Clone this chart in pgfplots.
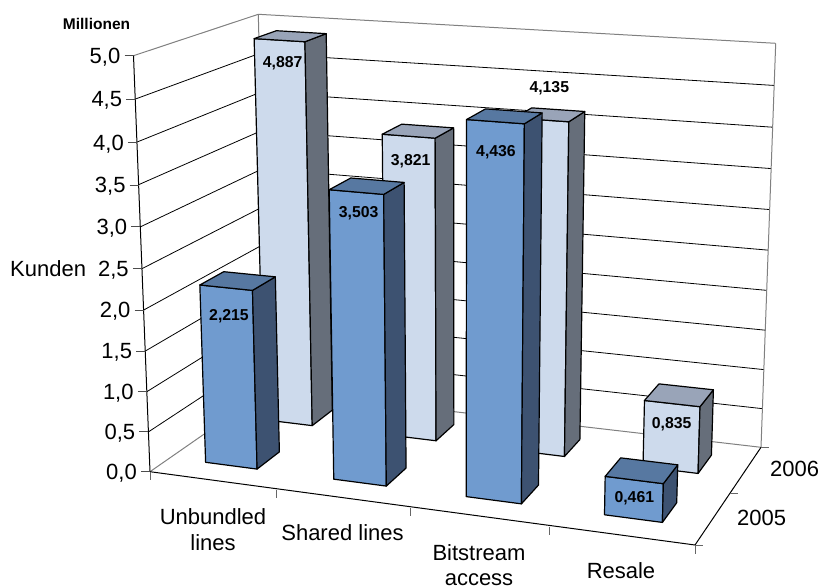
\documentclass[border=0pt]{standalone}
\usepackage{fontspec}
\setmainfont{Liberation Sans}
\usepackage{pgfplots}
\pgfplotsset{compat=1.18}

\definecolor{blueF}{RGB}{112,155,207}
\definecolor{blueS}{RGB}{61,82,113}
\definecolor{blueT}{RGB}{87,120,161}
\definecolor{paleF}{RGB}{205,218,236}
\definecolor{paleS}{RGB}{102,110,122}
\definecolor{paleT}{RGB}{153,164,184}
\definecolor{wallc}{RGB}{128,128,128}

% floor position u (along categories, 0..1), v (depth, 0..1), value z (0..5) -> page
\tikzset{declare function={
  wz(\t)=\t-0.048*\t*(1-\t);
  bxa(\u,\v)=(1-\u)*(1-\v)*150+\u*(1-\v)*695+(1-\u)*\v*267.6+\u*\v*761;
  bxb(\u,\v)=(1-\u)*(1-\v)*133.5+\u*(1-\v)*707.9+(1-\u)*\v*258.3+\u*\v*775.7;
  bya(\u,\v)=(1-\u)*(1-\v)*471.7+\u*(1-\v)*545+(1-\u)*\v*390+\u*\v*447.3;
  byb(\u,\v)=(1-\u)*(1-\v)*55.7+\u*(1-\v)*95+(1-\u)*\v*14.3+\u*\v*43.3;
  px(\u,\v,\z)=bxa(\u,\v)+(bxb(\u,\v)-bxa(\u,\v))*wz(\z/5);
  py(\u,\v,\z)=bya(\u,\v)+(byb(\u,\v)-bya(\u,\v))*wz(\z/5);
}}

\newcommand\poly[2]{\addplot[#1] table[row sep=\\,
    x expr={px(\thisrow{u},\thisrow{v},\thisrow{z})},
    y expr={py(\thisrow{u},\thisrow{v},\thisrow{z})}] {u v z\\ #2};}
\newcommand\face[2]{\addplot[#1,draw=black,line width=1.2pt,line join=round] table[row sep=\\,
    x expr={px(\thisrow{u},\thisrow{v},\thisrow{z})},
    y expr={py(\thisrow{u},\thisrow{v},\thisrow{z})}] {u v z\\ #2} --cycle;}
% u0 u1 v0 v1 value front side top
\newcommand\drawbar[8]{%
  \face{fill=#6}{#1 #3 0\\ #2 #3 0\\ #2 #3 #5\\ #1 #3 #5\\}
  \face{fill=#7}{#2 #3 0\\ #2 #4 0\\ #2 #4 #5\\ #2 #3 #5\\}
  \face{fill=#8}{#1 #3 #5\\ #2 #3 #5\\ #2 #4 #5\\ #1 #4 #5\\}}
\newcommand\ztick[3]{%
  \addplot[color=black!70,line width=0.9pt] coordinates {(#1-9,#2) (#1,#2)};
  \node[anchor=base east,inner sep=0pt] at (axis cs:#1-13,#2+7.8) {#3};}
\newcommand\lab[3]{\node[anchor=base,inner sep=0pt] at (axis cs:#1,#2) {#3};}
\newcommand\val[3]{\node[anchor=base,inner sep=0pt,font=\fontsize{15.8}{18}\selectfont\bfseries] at (axis cs:#1,#2+5.5) {#3};}

\begin{document}
\begin{tikzpicture}
\useasboundingbox (0,0) rectangle (819pt,588pt);
\begin{axis}[
  scale only axis,
  width=819pt, height=588pt,
  xmin=0, xmax=819, ymin=0, ymax=588,
  y dir=reverse,
  hide axis,
  clip=false,
  font=\fontsize{22}{26}\selectfont,
]
% walls
\pgfplotsinvokeforeach{0.5,1,1.5,2,2.5,3,3.5,4,4.5}{
  \poly{black,line width=0.8pt}{0 0 #1\\ 0 1 #1\\ 1 1 #1\\}
}
\poly{wallc,line width=1pt}{0 0 5\\ 0 1 5\\ 1 1 5\\}
\poly{wallc,line width=1pt}{0 0 0\\ 0 1 0\\ 1 1 0\\}
\poly{wallc,line width=1pt}{0 1 0\\ 0 1 5\\}
\poly{wallc,line width=1pt}{1 1 0\\ 1 1 5\\}
\poly{black,line width=1pt}{0 0 0\\ 0 0 5\\}
\poly{black,line width=1pt}{0 0 0\\ 1 0 0\\ 1 1 0\\}

% axis ticks
\ztick{150}{471.7}{0,0}
\ztick{148.4}{431.7}{0,5}
\ztick{146.8}{391.7}{1,0}
\ztick{145.2}{351}{1,5}
\ztick{143.6}{310}{2,0}
\ztick{141.9}{268.3}{2,5}
\ztick{140.3}{226.7}{3,0}
\ztick{138.7}{185}{3,5}
\ztick{137}{142.3}{4,0}
\ztick{135.3}{99}{4,5}
\ztick{133.5}{55.7}{5,0}
\addplot[color=black!60,line width=0.9pt] coordinates {(150,471.7) (150,480)};
\addplot[color=black!60,line width=0.9pt] coordinates {(276.7,490) (276.7,498)};
\addplot[color=black!60,line width=0.9pt] coordinates {(410,508) (410,516)};
\addplot[color=black!60,line width=0.9pt] coordinates {(549,526.7) (549,534.7)};
\addplot[color=black!60,line width=0.9pt] coordinates {(695,545) (695,554)};
\addplot[color=black!60,line width=0.9pt] coordinates {(695,545) (703.3,545)};
\addplot[color=black!60,line width=0.9pt] coordinates {(730,493.3) (738.3,493.3)};
\addplot[color=black!60,line width=0.9pt] coordinates {(761,447.3) (769.3,447.3)};

% 2006 row
\drawbar{0.065}{0.160}{0.686}{0.870}{4.887}{paleF}{paleS}{paleT}
\drawbar{0.303}{0.403}{0.686}{0.870}{3.821}{paleF}{paleS}{paleT}
\drawbar{0.553}{0.655}{0.686}{0.870}{4.135}{paleF}{paleS}{paleT}
\drawbar{0.810}{0.918}{0.680}{0.870}{0.835}{paleF}{paleS}{paleT}
% 2005 row
\drawbar{0.066}{0.162}{0.172}{0.376}{2.215}{blueF}{blueS}{blueT}
\drawbar{0.305}{0.403}{0.172}{0.376}{3.503}{blueF}{blueS}{blueT}
\drawbar{0.552}{0.655}{0.172}{0.376}{4.436}{blueF}{blueS}{blueT}
\drawbar{0.810}{0.918}{0.172}{0.376}{0.461}{blueF}{blueS}{blueT}

% value labels
\val{282.7}{61.7}{4,887}
\val{229}{315}{2,215}
\val{410.7}{160}{3,821}
\val{358.7}{211.7}{3,503}
\val{496}{150.7}{4,436}
\val{549.3}{87.3}{4,135}
\val{671.7}{423.3}{0,835}
\val{634.3}{497.3}{0,461}

% category and series names
\lab{213}{524}{Unbundled}
\lab{213}{550}{lines}
\lab{342.5}{540.7}{Shared lines}
\lab{479}{560}{Bitstream}
\lab{479}{585.5}{access}
\lab{621}{578}{Resale}
\node[anchor=base west,inner sep=0pt] at (axis cs:770,476.7) {2006};
\node[anchor=base west,inner sep=0pt] at (axis cs:737,525.7) {2005};
\node[anchor=base west,inner sep=0pt] at (axis cs:10,276) {Kunden};
\node[anchor=base,inner sep=0pt,font=\fontsize{15.5}{18}\selectfont\bfseries] at (axis cs:96.5,29.3) {Millionen};
\end{axis}
\end{tikzpicture}
\end{document}
